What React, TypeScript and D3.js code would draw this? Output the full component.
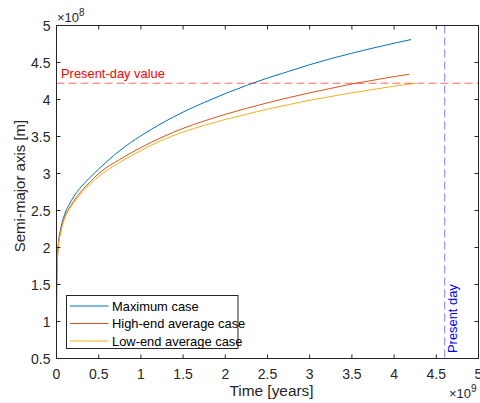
import React from "react";
import * as d3 from "d3";

const W = 480;
const H = 403;

const timeBlue = [0, 0.002, 0.005, 0.01, 0.02, 0.05, 0.1, 0.15, 0.2, 0.3, 0.4, 0.5, 0.75, 1.0, 1.25, 1.5, 1.75, 2.0, 2.25, 2.5, 2.75, 3.0, 3.25, 3.5, 3.75, 4.0, 4.2];
const maxCase = [1.0, 1.45, 1.68, 1.84, 2.02, 2.25, 2.46, 2.58, 2.68, 2.83, 2.95, 3.06, 3.31, 3.51, 3.68, 3.83, 3.96, 4.08, 4.19, 4.29, 4.38, 4.47, 4.552, 4.626, 4.695, 4.76, 4.81];

const timeOrange = [0, 0.002, 0.005, 0.01, 0.02, 0.05, 0.1, 0.15, 0.2, 0.3, 0.4, 0.5, 0.75, 1.0, 1.25, 1.5, 1.75, 2.0, 2.25, 2.5, 2.75, 3.0, 3.25, 3.5, 3.75, 4.0, 4.18];
const highCase = [0.85, 1.4, 1.65, 1.82, 2.0, 2.22, 2.42, 2.53, 2.62, 2.77, 2.89, 3.0, 3.19, 3.35, 3.49, 3.61, 3.71, 3.8, 3.88, 3.955, 4.025, 4.09, 4.15, 4.21, 4.26, 4.31, 4.34];

const timeYellow = [0, 0.002, 0.005, 0.01, 0.02, 0.05, 0.1, 0.15, 0.2, 0.3, 0.4, 0.5, 0.75, 1.0, 1.25, 1.5, 1.75, 2.0, 2.25, 2.5, 2.75, 3.0, 3.25, 3.5, 3.75, 4.0, 4.26];
const lowCase = [0.95, 1.4, 1.65, 1.82, 1.99, 2.2, 2.4, 2.51, 2.6, 2.74, 2.86, 2.96, 3.15, 3.31, 3.45, 3.56, 3.65, 3.73, 3.8, 3.87, 3.93, 3.99, 4.04, 4.09, 4.135, 4.18, 4.22];

const seriesNames = ["Maximum case", "High-end average case", "Low-end average case"];
const seriesColors = ["#0072BD", "#D95319", "#EDB120"];

const xTicks = [0, 0.5, 1, 1.5, 2, 2.5, 3, 3.5, 4, 4.5, 5];
const yTicks = [0.5, 1, 1.5, 2, 2.5, 3, 3.5, 4, 4.5, 5];

const presentDayValue = 4.22;
const presentDayTime = 4.6;

const FONT = "'Liberation Sans', Arial, Helvetica, sans-serif";
const AX = "#262626";

export default function App() {
  const left = 56.5, right = 478.5, top = 25.5, bottom = 358.5;
  const x = d3.scaleLinear().domain([0, 5]).range([left, right]);
  const y = d3.scaleLinear().domain([0.5, 5]).range([bottom, top]);
  const line = d3
    .line<[number, number]>()
    .x((d) => x(d[0]))
    .y((d) => y(d[1]))
    .curve(d3.curveMonotoneX);

  const series = [
    d3.zip(timeBlue, maxCase) as [number, number][],
    d3.zip(timeOrange, highCase) as [number, number][],
    d3.zip(timeYellow, lowCase) as [number, number][],
  ];

  const tl = 4;
  const legX = 66.5, legY = 295.5, legW = 171.5, legH = 53;

  return (
    <svg
      width={W}
      height={H}
      style={{ position: "absolute", left: 0, top: 0, background: "#fff" }}
      fontFamily={FONT}
    >
      <rect x={0} y={0} width={W} height={H} fill="#fff" />
      <defs>
        <clipPath id="clip">
          <rect x={left} y={top} width={right - left} height={bottom - top} />
        </clipPath>
      </defs>
      {/* data lines */}
      <g clipPath="url(#clip)">
        {series.map((s, i) => (
          <path key={i} d={line(s) || ""} fill="none" stroke={seriesColors[i]} strokeWidth={1} />
        ))}
      </g>
      {/* reference lines */}
      <line
        x1={left}
        x2={right}
        y1={y(presentDayValue)}
        y2={y(presentDayValue)}
        stroke="#ff0000"
        strokeOpacity={0.6}
        strokeDasharray="8,4"
        strokeWidth={1}
      />
      <line
        x1={x(presentDayTime)}
        x2={x(presentDayTime)}
        y1={top}
        y2={bottom}
        stroke="#0000ff"
        strokeOpacity={0.5}
        strokeDasharray="8,4"
        strokeWidth={1}
      />
      <text x={61} y={77.5} fill="#ff0000" fontSize={12.9}>
        Present-day value
      </text>
      <text
        transform={`translate(${x(presentDayTime) + 12},${353}) rotate(-90)`}
        fill="#0000ff"
        fontSize={12.9}
      >
        Present day
      </text>
      {/* axes box */}
      <rect x={left} y={top} width={right - left} height={bottom - top} fill="none" stroke={AX} strokeWidth={1} />
      {xTicks.map((t) => (
        <g key={"x" + t}>
          <line x1={x(t)} x2={x(t)} y1={bottom} y2={bottom - tl} stroke={AX} />
          <line x1={x(t)} x2={x(t)} y1={top} y2={top + tl} stroke={AX} />
          <text x={x(t)} y={379} textAnchor="middle" fontSize={14} fill={AX}>
            {String(t)}
          </text>
        </g>
      ))}
      {yTicks.map((t) => (
        <g key={"y" + t}>
          <line x1={left} x2={left + tl} y1={y(t)} y2={y(t)} stroke={AX} />
          <line x1={right} x2={right - tl} y1={y(t)} y2={y(t)} stroke={AX} />
          <text x={50.5} y={y(t) + 5} textAnchor="end" fontSize={14} fill={AX}>
            {String(t)}
          </text>
        </g>
      ))}
      {/* exponents */}
      <text x={57} y={22} fontSize={13} fill={AX}>
        ×10
        <tspan fontSize={10} dy={-6}>8</tspan>
      </text>
      <text x={449} y={398} fontSize={13} fill={AX}>
        ×10
        <tspan fontSize={10} dy={-6}>9</tspan>
      </text>
      {/* axis labels */}
      <text x={(left + right) / 2 + 4} y={396} textAnchor="middle" fontSize={15.4} fill={AX}>
        Time [years]
      </text>
      <text
        transform={`translate(25,${(top + bottom) / 2 - 6}) rotate(-90)`}
        textAnchor="middle"
        fontSize={15}
        fill={AX}
      >
        Semi-major axis [m]
      </text>
      {/* legend */}
      <rect x={legX} y={legY} width={legW} height={legH} fill="#fff" stroke={AX} strokeWidth={1} />
      {seriesNames.map((n, i) => (
        <g key={n}>
          <line
            x1={70}
            x2={108.5}
            y1={legY + 10.5 + i * 17.5}
            y2={legY + 10.5 + i * 17.5}
            stroke={seriesColors[i]}
            strokeWidth={1}
          />
          <text x={112} y={legY + 15 + i * 17.5} fontSize={12.9} fill="#000">
            {n}
          </text>
        </g>
      ))}
    </svg>
  );
}
